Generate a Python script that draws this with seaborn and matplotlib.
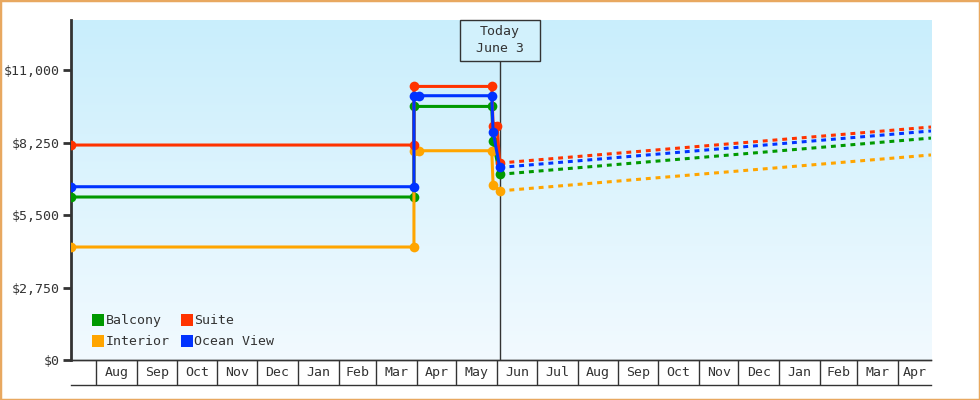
import numpy as np
import pandas as pd
import seaborn as sb
import matplotlib.pyplot as plt
import matplotlib.transforms as mtransforms
from matplotlib.colors import LinearSegmentedColormap
from matplotlib.lines import Line2D
from matplotlib.patches import Rectangle

# cabin colours
aCabins = ["Balcony", "Interior", "Suite", "Ocean View"]
dColors = {"Balcony": "#009900", "Interior": "#ffa500",
           "Suite": "#ff3300", "Ocean View": "#0033ff"}

# observed prices
aBalconyDates = ["2020-07-13", "2021-03-30", "2021-03-30", "2021-05-28", "2021-05-29", "2021-06-03"]
aBalconyPrice = [6184, 6184, 9621, 9621, 8293, 7045]
aInteriorDates = ["2020-07-13", "2021-03-30", "2021-03-30", "2021-04-03", "2021-05-28", "2021-05-29", "2021-06-03"]
aInteriorPrice = [4287, 4287, 7940, 7940, 7940, 6650, 6415]
aSuiteDates = ["2020-07-13", "2021-03-30", "2021-03-30", "2021-05-28", "2021-05-29", "2021-06-01", "2021-06-03"]
aSuitePrice = [8156, 8156, 10380, 10380, 8886, 8886, 7473]
aOceanDates = ["2020-07-13", "2021-03-30", "2021-03-30", "2021-04-03", "2021-05-28", "2021-05-29", "2021-06-03"]
aOceanPrice = [6574, 6574, 10027, 10027, 10027, 8660, 7305]

# forecast from today to end of range
aForecastDates = ["2021-06-03", "2022-04-26"]
aBalconyForecast = [7045, 8420]
aInteriorForecast = [6415, 7780]
aSuiteForecast = [7473, 8840]
aOceanForecast = [7305, 8690]

sToday = "2021-06-03"
aYTicks = [0, 2750, 5500, 8250, 11000]
sStart, sEnd = "2020-07-13", "2022-04-26"

# build long tables
def build(dSeries):
    aFrames = []
    for sCabin, (aDates, aPrice) in dSeries.items():
        aFrames.append(pd.DataFrame({"date": pd.to_datetime(aDates),
                                     "price": aPrice, "cabin": sCabin}))
    return pd.concat(aFrames, ignore_index=True)

oActual = build({"Balcony": (aBalconyDates, aBalconyPrice),
                 "Interior": (aInteriorDates, aInteriorPrice),
                 "Suite": (aSuiteDates, aSuitePrice),
                 "Ocean View": (aOceanDates, aOceanPrice)})
oForecast = build({"Balcony": (aForecastDates, aBalconyForecast),
                   "Interior": (aForecastDates, aInteriorForecast),
                   "Suite": (aForecastDates, aSuiteForecast),
                   "Ocean View": (aForecastDates, aOceanForecast)})

sb.set_theme(style="white")
plt.rcParams["font.family"] = ["DejaVu Sans Mono"]
sTextColor = "#333333"

oFig = plt.figure(figsize=(9.8, 4), dpi=100, facecolor="white")
oAx = oFig.add_axes([71 / 980, 40 / 400, 860 / 980, 340 / 400])
oAx.set_facecolor("none")

# gradient background
oCmap = LinearSegmentedColormap.from_list("bg", ["#c9eefc", "#f2faff"])
oAx.imshow(np.linspace(0, 1, 256).reshape(-1, 1), cmap=oCmap, aspect="auto",
           extent=[0, 1, 0, 1], transform=oAx.transAxes, zorder=0)

# today marker line
dtToday = pd.Timestamp(sToday)
oAx.axvline(dtToday, color=sTextColor, lw=1, zorder=1)

sb.lineplot(data=oForecast, x="date", y="price", hue="cabin", palette=dColors,
            hue_order=aCabins, sort=False, estimator=None, ax=oAx, lw=2.2,
            dashes=False, legend=False, zorder=2)
for oLine in oAx.lines[1:]:
    oLine.set_dashes((1.6, 1.6))
sb.lineplot(data=oActual, x="date", y="price", hue="cabin", palette=dColors,
            hue_order=aCabins, sort=False, estimator=None, ax=oAx, lw=2.2,
            marker="o", markersize=7, markeredgewidth=0, legend=False, zorder=3)

# today label box (80px wide, 41px tall, hanging from the top)
oBlend = mtransforms.blended_transform_factory(oAx.transData, oAx.transAxes)
oHalf = pd.Timedelta(days=30.3)
oAx.add_patch(Rectangle((dtToday - oHalf, 1 - 41 / 340), 2 * oHalf, 41 / 340,
                        transform=oBlend, facecolor="#d2f1fc",
                        edgecolor=sTextColor, lw=1, zorder=5, clip_on=False))
oAx.text(dtToday, 1 - 20.5 / 340, "Today\nJune 3", transform=oBlend,
         ha="center", va="center", multialignment="center", fontsize=9.5,
         color=sTextColor, linespacing=1.4, zorder=6)

oAx.set_ylim(0, 12900)
oAx.set_xlim(pd.Timestamp(sStart), pd.Timestamp(sEnd))
oAx.set_yticks(aYTicks)
oAx.set_yticklabels(["${:,.0f}".format(v) for v in aYTicks])
oAx.tick_params(axis="y", direction="out", length=6, width=2, color=sTextColor,
                labelcolor=sTextColor, labelsize=9.5, pad=2, left=True)
oAx.tick_params(axis="x", bottom=False, labelbottom=False)
oAx.set_xlabel("")
oAx.set_ylabel("")
for sSide in ["top", "right"]:
    oAx.spines[sSide].set_visible(False)
oAx.spines["left"].set_color(sTextColor)
oAx.spines["left"].set_linewidth(2)
oAx.spines["bottom"].set_color(sTextColor)
oAx.spines["bottom"].set_linewidth(1)

# legend
aHandles = [Line2D([], [], ls="", marker="s", markersize=8, markeredgewidth=0,
                   color=dColors[c]) for c in aCabins]
oAx.legend(aHandles, aCabins, loc="lower left", bbox_to_anchor=(0.012, 0.0),
           ncol=2, frameon=False, fontsize=9.5, handlelength=0.8,
           handletextpad=0.15, columnspacing=0.9, labelspacing=0.6,
           labelcolor=sTextColor)

# month cells below the axis
oCell = oFig.add_axes([71 / 980, 15 / 400, 860 / 980, 25 / 400], sharex=oAx)
oCell.set_facecolor("none")
oCell.set_ylim(0, 1)
dtEnd = pd.Timestamp(sEnd)
aMonths = pd.date_range("2020-08-01", sEnd, freq="MS")
for i, dtMonth in enumerate(aMonths):
    oCell.axvline(dtMonth, color=sTextColor, lw=1)
    dtNext = aMonths[i + 1] if i + 1 < len(aMonths) else dtEnd
    dtNext = min(dtNext, dtEnd)
    oCell.text(dtMonth + (dtNext - dtMonth) / 2, 0.5, dtMonth.strftime("%b"),
               ha="center", va="center", fontsize=9.5, color=sTextColor)
oCell.set_yticks([])
oCell.tick_params(axis="x", bottom=False, labelbottom=False)
for sSide in ["left", "right"]:
    oCell.spines[sSide].set_visible(False)
for sSide in ["top", "bottom"]:
    oCell.spines[sSide].set_color(sTextColor)
    oCell.spines[sSide].set_linewidth(1)
oAx.set_xlim(pd.Timestamp(sStart), pd.Timestamp(sEnd))

# outer border
oFig.patches.append(Rectangle((0, 0), 1, 1, transform=oFig.transFigure,
                              fill=False, edgecolor="#e8a860", lw=2.5))

oFig.savefig("out.png", dpi=100)
